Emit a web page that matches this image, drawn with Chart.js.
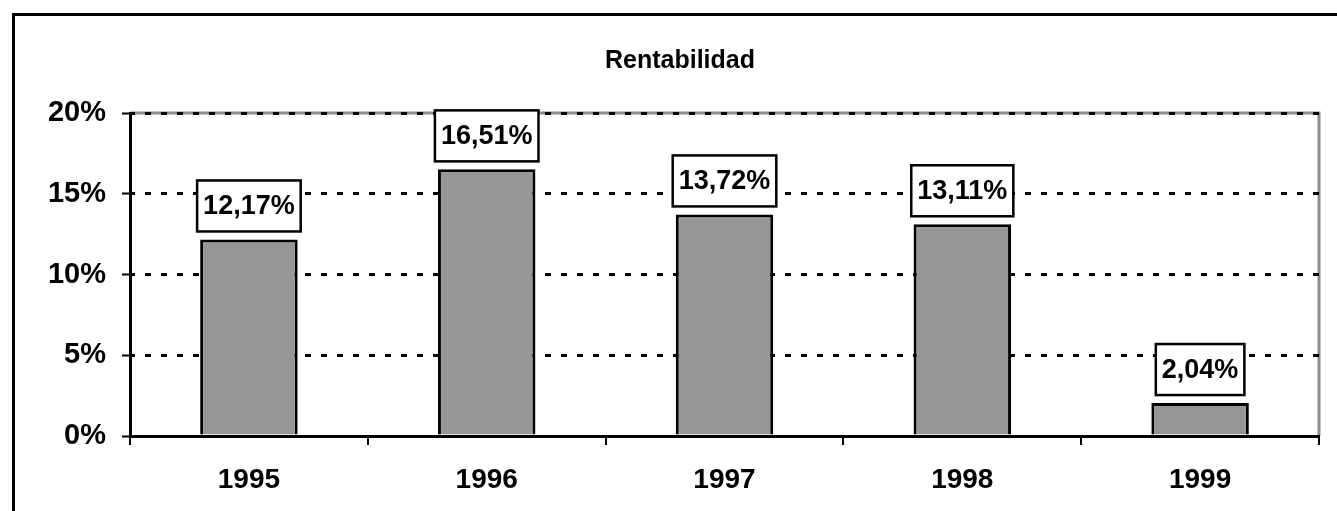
<!DOCTYPE html>
<html>
<head>
<meta charset="utf-8">
<script src="https://cdn.jsdelivr.net/npm/chart.js@4/dist/chart.umd.min.js"></script>
<style>
  html,body{margin:0;padding:0;background:#fff;overflow:hidden}
  #wrap{position:relative;width:1337px;height:511px}
</style>
</head>
<body>
<div id="wrap"><canvas id="c"></canvas></div>
<script>
// chart data
const years = ['1995','1996','1997','1998','1999'];
const rentabilidad = [12.17, 16.51, 13.72, 13.11, 2.04];
const yTicks = [0, 5, 10, 15, 20];
const chartTitle = 'Rentabilidad';

const FONT = '"Liberation Sans", Arial, sans-serif';

// outer frame + grey plot border, drawn under the scales
const framePlugin = {
  id: 'frame',
  beforeDraw(chart){
    const ctx = chart.ctx, a = chart.chartArea;
    ctx.save();
    ctx.fillStyle = '#fff';
    ctx.fillRect(0,0,chart.width,chart.height);
    ctx.fillStyle = '#000';
    ctx.fillRect(12,13,3,chart.height);
    ctx.fillRect(12,13,chart.width,3);
    ctx.strokeStyle = '#8c8c8c';
    ctx.lineWidth = 3;
    ctx.beginPath();
    ctx.moveTo(a.left, a.top);
    ctx.lineTo(a.right, a.top);
    ctx.lineTo(a.right, a.bottom);
    ctx.stroke();
    ctx.restore();
  },
  afterDraw(chart){
    const ctx = chart.ctx;
    ctx.save();
    ctx.fillStyle = '#000';
    ctx.font = 'bold 25px ' + FONT;
    ctx.textAlign = 'center';
    ctx.textBaseline = 'middle';
    ctx.fillText(chartTitle, 680, 61);
    ctx.restore();
  }
};

// boxed value labels above each bar
const labelPlugin = {
  id: 'boxLabels',
  afterDatasetsDraw(chart){
    const ctx = chart.ctx;
    const meta = chart.getDatasetMeta(0);
    ctx.save();
    ctx.font = 'bold 27px ' + FONT;
    ctx.textAlign = 'center';
    ctx.textBaseline = 'middle';
    meta.data.forEach((bar, i) => {
      const txt = rentabilidad[i].toFixed(2).replace('.', ',') + '%';
      const w = ctx.measureText(txt).width + 12;
      const h = 51;
      const x = bar.x - w/2;
      const y = bar.y - 8 - h;
      ctx.fillStyle = '#fff';
      ctx.fillRect(x, y, w, h);
      ctx.strokeStyle = '#000';
      ctx.lineWidth = 2.5;
      ctx.strokeRect(x, y, w, h);
      ctx.fillStyle = '#000';
      ctx.fillText(txt, bar.x, y + h/2 + 1);
    });
    ctx.restore();
  }
};

new Chart(document.getElementById('c'), {
  type: 'bar',
  data: {
    labels: years,
    datasets: [{
      data: rentabilidad,
      backgroundColor: '#969696',
      borderColor: '#000',
      borderWidth: 3,
      borderSkipped: 'start',
      barPercentage: 0.41,
      categoryPercentage: 1
    }]
  },
  options: {
    responsive: true,
    maintainAspectRatio: false,
    animation: false,
    layout: { padding: { top: 113, right: 18, left: 0, bottom: 0 } },
    plugins: {
      legend: { display: false },
      title: { display: false },
      tooltip: { enabled: false }
    },
    scales: {
      x: {
        offset: true,
        afterFit(s){ s.height = 75; },
        grid: {
          offset: true,
          drawOnChartArea: false,
          drawTicks: true,
          tickLength: 9,
          color: '#000',
          lineWidth: 2
        },
        border: { display: true, color: '#000', width: 3 },
        ticks: {
          color: '#000',
          padding: 18,
          font: { family: FONT, size: 28, weight: 'bold' }
        }
      },
      y: {
        min: 0,
        max: 20,
        afterFit(s){ s.width = 130; },
        afterBuildTicks(s){ s.ticks = yTicks.map(v => ({ value: v })); },
        grid: {
          color: '#000',
          lineWidth: 3,
          drawTicks: true,
          tickLength: 8,
          tickColor: '#000',
          tickWidth: 2,
          tickBorderDash: []
        },
        border: { display: true, color: '#000', width: 3, dash: [6, 10], dashOffset: 3 },
        ticks: {
          color: '#000',
          padding: 16,
          font: { family: FONT, size: 29, weight: 'bold' },
          callback: v => v + '%'
        }
      }
    }
  },
  plugins: [framePlugin, labelPlugin]
});
</script>
</body>
</html>
